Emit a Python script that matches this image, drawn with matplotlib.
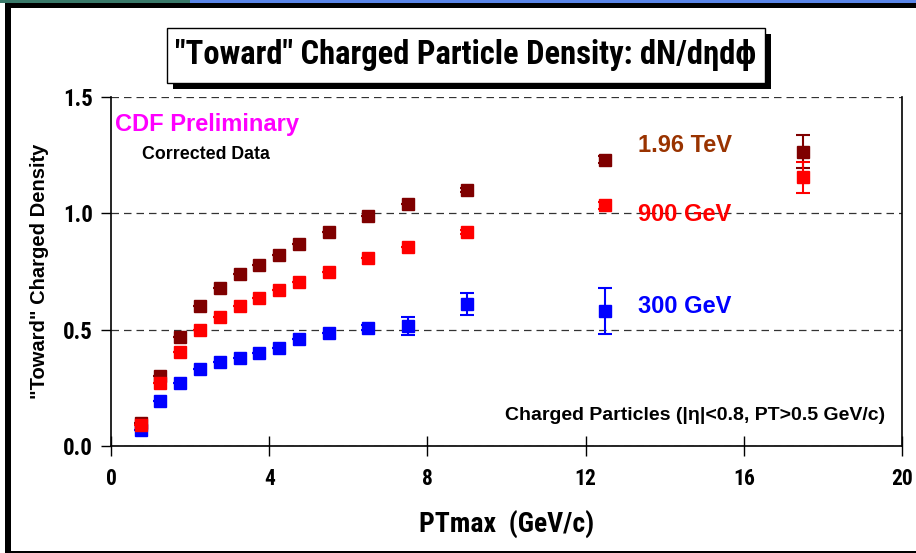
import matplotlib
matplotlib.use('Agg')
import matplotlib.pyplot as plt
from matplotlib.patches import Rectangle
from matplotlib import font_manager

# ---- data ----
pt_max = [0.75, 1.25, 1.75, 2.25, 2.75, 3.25, 3.75, 4.25, 4.75, 5.5, 6.5, 7.5, 9.0, 12.5, 17.5]
dens_1960 = [0.10, 0.30, 0.47, 0.60, 0.68, 0.74, 0.78, 0.82, 0.87, 0.92, 0.99, 1.04, 1.10, 1.23, 1.265]
err_1960 = [0, 0, 0, 0, 0, 0, 0, 0, 0, 0, 0, 0, 0.01, 0.015, 0.07]
dens_900 = [0.09, 0.27, 0.405, 0.50, 0.555, 0.60, 0.635, 0.67, 0.705, 0.75, 0.81, 0.855, 0.92, 1.035, 1.155]
err_900 = [0, 0, 0, 0, 0, 0, 0, 0, 0, 0, 0, 0, 0.01, 0.015, 0.067]
pt_300 = [0.75, 1.25, 1.75, 2.25, 2.75, 3.25, 3.75, 4.25, 4.75, 5.5, 6.5, 7.5, 9.0, 12.5]
dens_300 = [0.07, 0.195, 0.27, 0.33, 0.36, 0.38, 0.40, 0.42, 0.462, 0.486, 0.508, 0.515, 0.61, 0.58]
err_300 = [0, 0, 0, 0, 0, 0, 0, 0, 0, 0, 0.01, 0.04, 0.048, 0.097]
x_ticks = [0, 4, 8, 12, 16, 20]
y_ticks = [0.0, 0.5, 1.0, 1.5]

names = {f.name for f in font_manager.fontManager.ttflist}
narrow = 'Roboto Condensed' if 'Roboto Condensed' in names else 'Liberation Sans'
NARROW = [narrow, 'DejaVu Sans']
plt.rcParams['font.family'] = ['Liberation Sans', 'DejaVu Sans']

W, H = 916, 553
fig = plt.figure(figsize=(W / 100, H / 100), dpi=100)

def fx(x):
    return x / W

def fy(y):
    return 1 - y / H

# slide frame
fig.patches.append(Rectangle((0, fy(3)), 1, 3 / H, transform=fig.transFigure,
                             facecolor='#5a86e8', edgecolor='none', zorder=0))
fig.patches.append(Rectangle((0, fy(3)), fx(190), 3 / H, transform=fig.transFigure,
                             facecolor='#3a7a6a', edgecolor='none', zorder=0))
fig.patches.append(Rectangle((fx(5), fy(8)), 1, 5 / H, transform=fig.transFigure,
                             facecolor='black', edgecolor='none', zorder=0))
fig.patches.append(Rectangle((fx(5), fy(553)), 6 / W, (553 - 3) / H, transform=fig.transFigure,
                             facecolor='black', edgecolor='none', zorder=0))
fig.patches.append(Rectangle((fx(5), fy(553)), 1, 2 / H, transform=fig.transFigure,
                             facecolor='black', edgecolor='none', zorder=0))

# title box with shadow
bx0, bx1, by0, by1 = 167, 765, 28, 83
fig.patches.append(Rectangle((fx(bx0 + 6), fy(by1 + 6)), (bx1 - bx0) / W, (by1 - by0) / H,
                             transform=fig.transFigure, facecolor='black', edgecolor='none', zorder=1))
fig.patches.append(Rectangle((fx(bx0), fy(by1)), (bx1 - bx0) / W, (by1 - by0) / H,
                             transform=fig.transFigure, facecolor='white', edgecolor='black',
                             linewidth=1.0, zorder=2))
fig.text(fx((bx0 + bx1) / 2), fy(55), '"Toward" Charged Particle Density: dN/dηdϕ',
         ha='center', va='center', fontsize=23.5, fontweight='bold',
         family=NARROW, zorder=3)

ax = fig.add_axes([fx(111), fy(446), (902 - 111) / W, (446 - 97) / H])
ax.set_xlim(0, 20)
ax.set_ylim(0, 1.5)

ms = 8.5
ax.errorbar(pt_max, dens_1960, yerr=err_1960, fmt='s', color='#7f0000', ms=ms,
            capsize=5, elinewidth=1.5, capthick=1.5, zorder=3)
ax.errorbar(pt_max, dens_900, yerr=err_900, fmt='s', color='#ff0000', ms=ms,
            capsize=5, elinewidth=1.5, capthick=1.5, zorder=4)
ax.errorbar(pt_300, dens_300, yerr=err_300, fmt='s', color='#0000ff', ms=ms,
            capsize=5, elinewidth=1.5, capthick=1.5, zorder=2)

ax.set_xticks(x_ticks)
ax.set_yticks(y_ticks)
ax.set_yticklabels([f'{v:.1f}' for v in y_ticks])
ax.tick_params(axis='x', direction='inout', length=14, width=1, pad=9, labelsize=15.5)
ax.tick_params(axis='y', direction='out', length=7, width=1, pad=6, labelsize=16.5)
for lab in ax.get_xticklabels() + ax.get_yticklabels():
    lab.set_fontweight('bold')
    lab.set_family(NARROW)

ax.yaxis.grid(True, linestyle=(0, (6, 4)), color='#333333', linewidth=0.9)
ax.set_axisbelow(True)
ax.spines['top'].set_visible(False)
for s in ['left', 'bottom', 'right']:
    ax.spines[s].set_linewidth(1.2)

ax.set_xlabel('PTmax  (GeV/c)', fontsize=20, fontweight='bold',
              family=NARROW, labelpad=14)
ax.set_ylabel('"Toward" Charged Density', fontsize=14.5, fontweight='bold', labelpad=10)

ax.text(0.1, 1.382, 'CDF Preliminary', color='#ff00ff', fontsize=17, fontweight='bold',
        ha='left', va='center')
ax.text(0.78, 1.253, 'Corrected Data', color='black', fontsize=12.8, fontweight='bold',
        ha='left', va='center')
ax.text(13.32, 1.292, '1.96 TeV', color='#993300', fontsize=17, fontweight='bold',
        ha='left', va='center')
ax.text(13.32, 0.996, '900 GeV', color='#ff0000', fontsize=17, fontweight='bold',
        ha='left', va='center')
ax.text(13.32, 0.601, '300 GeV', color='#0000ff', fontsize=17, fontweight='bold',
        ha='left', va='center')
ax.text(19.57, 0.129, 'Charged Particles (|η|<0.8, PT>0.5 GeV/c)', color='black',
        fontsize=14, fontweight='bold', ha='right', va='center')

fig.savefig('out.png', dpi=100, facecolor='white')
